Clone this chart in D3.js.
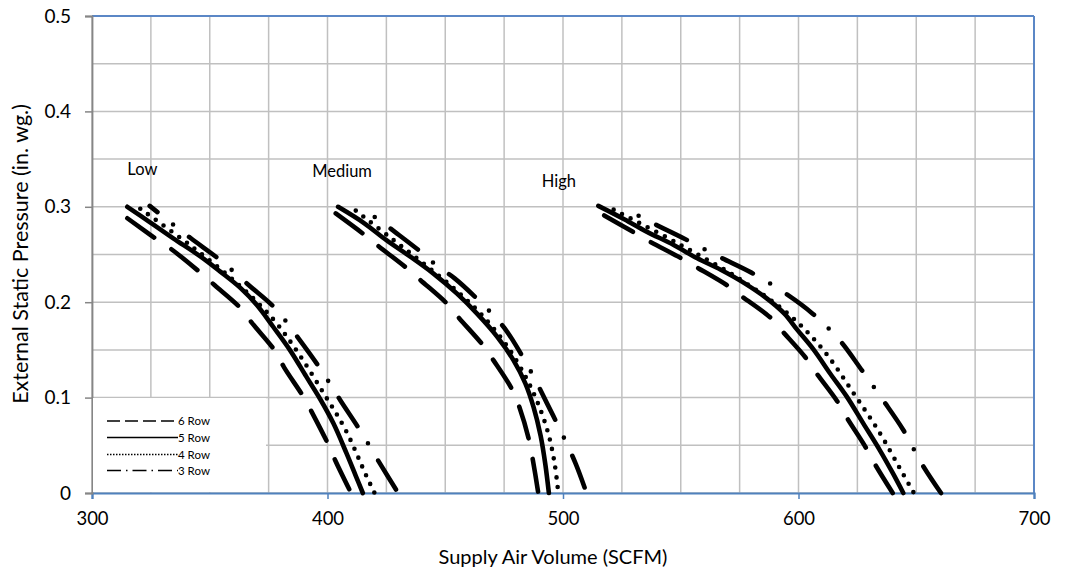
<!DOCTYPE html>
<html>
<head>
<meta charset="utf-8">
<script src="https://cdn.jsdelivr.net/npm/d3@7"></script>
<style>
  body { margin: 0; background: #fff; }
  svg { display: block; font-family: Lato, "Open Sans", sans-serif; }
</style>
</head>
<body>
<svg></svg>
<script>
// series names, legend order
var rows = ["6 Row", "5 Row", "4 Row", "3 Row"];
var speeds = ["Low", "Medium", "High"];

// [SCFM, in. wg.]
var low6 = [[315,0.288],[328,0.265],[334,0.255],[346,0.231],[352,0.218],[363,0.194],[368,0.178],[378,0.148],[381.5,0.132],[390,0.100],[393.5,0.084],[400.5,0.050],[403.5,0.033],[410,0]];
var low5 = [[315,0.300],[324.5,0.284],[334.5,0.267],[346,0.248],[354.5,0.232],[363,0.215],[370,0.197],[377,0.174],[384,0.150],[391,0.122],[397,0.098],[402.5,0.073],[408,0.042],[412,0.018],[415,0]];
var low4 = [[320.5,0.298],[341.5,0.260],[361.5,0.220],[377,0.182],[387.5,0.147],[398.5,0.104],[407.5,0.067],[416.5,0.018],[420,0]];
var low3 = [[324.5,0.301],[329.5,0.291],[342,0.267],[354.5,0.244],[366.5,0.218],[378,0.193],[388,0.161],[397,0.130],[405.5,0.097],[414,0.065],[422.5,0.030],[430,0]];

var med6 = [[403.5,0.293],[415.5,0.271],[421.5,0.259],[433.5,0.236],[439.5,0.223],[450.5,0.199],[456,0.183],[466,0.155],[470.5,0.139],[478.5,0.108],[481.5,0.090],[485.5,0.056],[489.5,0]];
var med5 = [[404.5,0.300],[415.5,0.283],[425,0.265],[435,0.248],[445,0.230],[455,0.209],[463.5,0.188],[472,0.164],[479,0.139],[484,0.115],[487.5,0.090],[490.5,0.060],[492.5,0.030],[494,0]];
var med4 = [[412,0.296],[425.5,0.270],[439,0.244],[452.5,0.217],[465,0.188],[476,0.155],[484.5,0.120],[490,0.090],[494,0.060],[496.5,0.030],[498,0]];
var med3 = [[414,0.300],[422.5,0.285],[429,0.273],[441,0.250],[447,0.237],[454,0.225],[465,0.200],[470.5,0.186],[476,0.170],[486,0.129],[493,0.095],[500,0.060],[505.5,0.030],[510,0]];

var high6 = [[517.5,0.291],[529.5,0.274],[536.5,0.264],[549.5,0.247],[556.5,0.237],[569.5,0.218],[576,0.206],[588,0.184],[593,0.170],[603,0.142],[607.5,0.126],[616.5,0.096],[620.5,0.079],[628.5,0.048],[632.5,0.030],[640,0]];
var high5 = [[515,0.301],[526,0.287],[535.5,0.274],[547,0.260],[557,0.246],[567,0.234],[577,0.220],[586.5,0.204],[594,0.188],[599.5,0.171],[606.5,0.150],[613.5,0.125],[620.5,0.101],[627.5,0.073],[634.5,0.045],[640,0.021],[644.5,0]];
var high4 = [[521.5,0.297],[548.5,0.262],[574.5,0.225],[595.5,0.188],[610.5,0.150],[623,0.106],[634.5,0.063],[643,0.026],[649,0]];
var high3 = [[524.5,0.300],[531,0.292],[538,0.283],[552,0.266],[566,0.248],[580,0.231],[594,0.210],[606,0.188],[617.5,0.160],[626.5,0.130],[636,0.097],[644.5,0.066],[652.5,0.030],[660.5,0]];

// where the speed tags sit [SCFM, in. wg.]
var speedLabelAt = [[315,0.333],[393.5,0.331],[491,0.321]];

var xTicks = [300, 400, 500, 600, 700];
var yTicks = [0, 0.1, 0.2, 0.3, 0.4, 0.5];
var xGrid = d3.range(300, 701, 25);
var yGrid = d3.range(0, 0.5001, 0.05);

var width = 1067;
var height = 575;
var padLeft = 92, padRight = 1034, padTop = 16, padBottom = 493;

var svg = d3.select("svg")
    .attr("width", width)
    .attr("height", height);

var xScale = d3.scaleLinear()
    .domain([300, 700])
    .range([padLeft, padRight]);

var yScale = d3.scaleLinear()
    .domain([0, 0.5])
    .range([padBottom, padTop]);

// grid
svg.append("g")
    .selectAll("line")
    .data(xGrid)
    .enter()
    .append("line")
    .attr("x1", d => xScale(d))
    .attr("x2", d => xScale(d))
    .attr("y1", padTop)
    .attr("y2", padBottom)
    .attr("stroke", "#c0c0c0")
    .attr("stroke-width", 1.5);

svg.append("g")
    .selectAll("line")
    .data(yGrid)
    .enter()
    .append("line")
    .attr("x1", padLeft)
    .attr("x2", padRight)
    .attr("y1", d => yScale(d))
    .attr("y2", d => yScale(d))
    .attr("stroke", "#c0c0c0")
    .attr("stroke-width", 1.5);

// plot border (top and right are blue)
svg.append("line")
    .attr("x1", padLeft).attr("x2", padRight)
    .attr("y1", padTop).attr("y2", padTop)
    .attr("stroke", "#5b87c6").attr("stroke-width", 2);
svg.append("line")
    .attr("x1", padRight).attr("x2", padRight)
    .attr("y1", padTop).attr("y2", padBottom)
    .attr("stroke", "#5b87c6").attr("stroke-width", 2);

// axes
var xAxis = d3.axisBottom(xScale)
    .tickValues(xTicks)
    .tickSize(6)
    .tickPadding(13)
    .tickFormat(d3.format("d"));

var yAxis = d3.axisLeft(yScale)
    .tickValues(yTicks)
    .tickSize(7)
    .tickPadding(14)
    .tickFormat(d => d == 0 ? "0" : d3.format(".1f")(d));

var gx = svg.append("g")
    .attr("transform", "translate(0," + padBottom + ")")
    .call(xAxis);
gx.select(".domain").attr("stroke", "#4f81bd").attr("stroke-width", 2.2);
gx.selectAll(".tick line").attr("stroke", "#4f81bd").attr("stroke-width", 1.5);
gx.selectAll("text").attr("font-size", 18.5).attr("fill", "#000").attr("font-family", "Lato");

var gy = svg.append("g")
    .attr("transform", "translate(" + padLeft + ",0)")
    .call(yAxis);
gy.select(".domain").attr("stroke", "#868686").attr("stroke-width", 1.8);
gy.selectAll(".tick line").attr("stroke", "#868686").attr("stroke-width", 1.5);
gy.selectAll("text").attr("font-size", 19).attr("fill", "#000").attr("font-family", "Lato");

svg.append("text")
    .text("Supply Air Volume (SCFM)")
    .attr("x", 553)
    .attr("y", 564)
    .attr("text-anchor", "middle")
    .attr("font-size", 20);

svg.append("text")
    .text("External Static Pressure (in. wg.)")
    .attr("transform", "translate(28,254) rotate(-90)")
    .attr("text-anchor", "middle")
    .attr("font-size", 21.5);

// legend box sits under the curves
svg.append("rect")
    .attr("x", padLeft + 1)
    .attr("y", 398)
    .attr("width", 173)
    .attr("height", padBottom - 398 - 1)
    .attr("fill", "#fff");

var styles = {
    "6 Row": "33,21",
    "5 Row": null,
    "4 Row": "0,9.6",
    "3 Row": "34,20,0,20"
};
var legendDash = {
    "6 Row": "13,5",
    "5 Row": null,
    "4 Row": "1.5,1.5",
    "3 Row": "14,5,1.5,5"
};

var legend = svg.append("g")
    .selectAll("g")
    .data(rows)
    .enter()
    .append("g")
    .attr("transform", (d, i) => "translate(107," + [421, 437.5, 454.5, 470.5][i] + ")");

legend.append("line")
    .attr("x1", 0)
    .attr("x2", 71)
    .attr("stroke", "#000")
    .attr("stroke-width", 1.6)
    .attr("stroke-dasharray", d => legendDash[d]);

legend.append("text")
    .text(d => d)
    .attr("x", 71)
    .attr("y", 4)
    .attr("font-size", 11.5);

// curves
var line = d3.line()
    .x(d => xScale(d[0]))
    .y(d => yScale(d[1]))
    .curve(d3.curveCatmullRom.alpha(0.5));

// third value: dash phase so the pattern lines up with the picture
var curves = [
    [low6, "6 Row", 0], [low5, "5 Row", 0], [low4, "4 Row", 0], [low3, "3 Row", 24],
    [med6, "6 Row", 0], [med5, "5 Row", 0], [med4, "4 Row", 0], [med3, "3 Row", 36.5],
    [high6, "6 Row", 0], [high5, "5 Row", 0], [high4, "4 Row", 0], [high3, "3 Row", 34]
];

svg.append("g")
    .selectAll("path")
    .data(curves)
    .enter()
    .append("path")
    .attr("d", d => line(d[0]))
    .attr("fill", "none")
    .attr("stroke", "#000")
    .attr("stroke-width", 4.6)
    .attr("stroke-linecap", "round")
    .attr("stroke-dasharray", d => styles[d[1]])
    .attr("stroke-dashoffset", d => d[2]);

// speed tags
svg.append("g")
    .selectAll("text")
    .data(speeds)
    .enter()
    .append("text")
    .text(d => d)
    .attr("x", (d, i) => xScale(speedLabelAt[i][0]))
    .attr("y", (d, i) => yScale(speedLabelAt[i][1]))
    .attr("font-size", 16.5);
</script>
</body>
</html>
